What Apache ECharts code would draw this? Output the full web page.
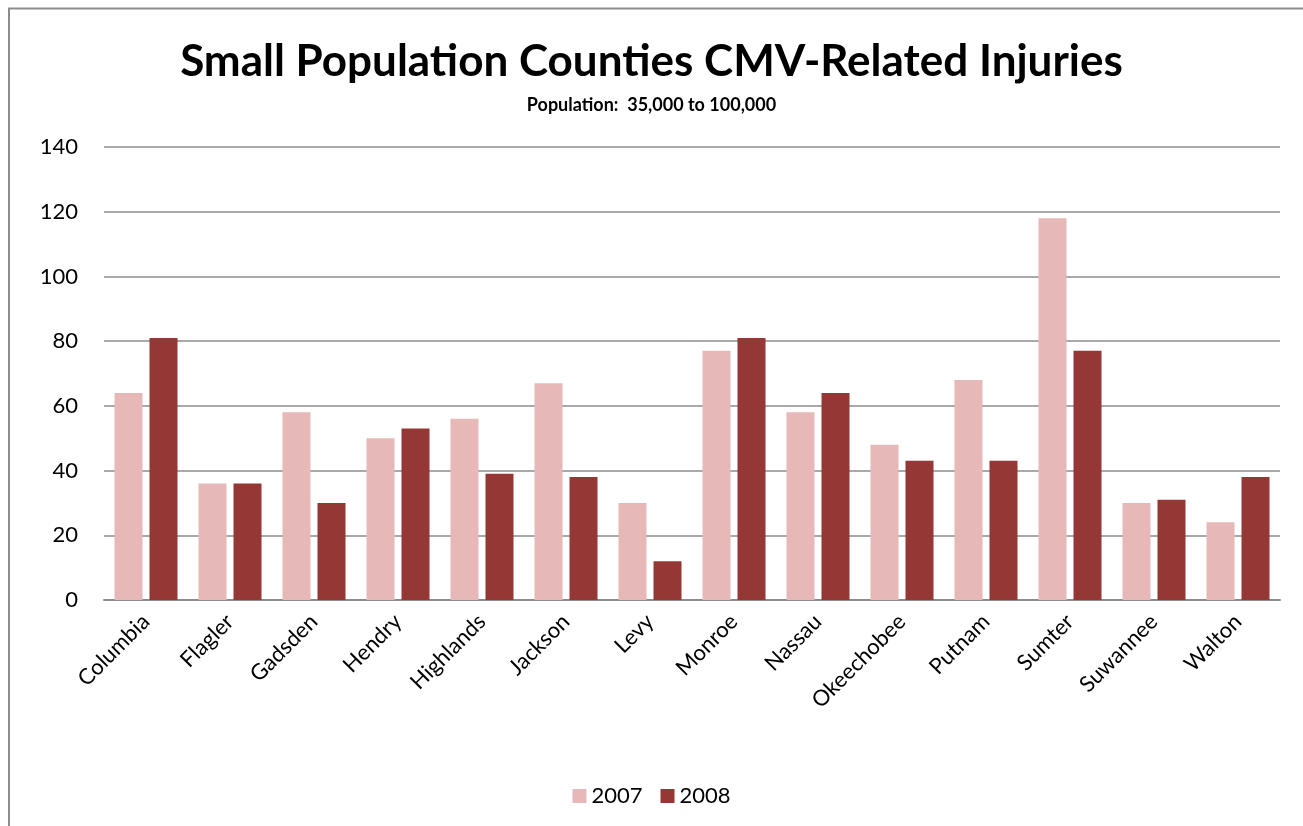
<!DOCTYPE html>
<html><head><meta charset="utf-8">
<script src="https://cdn.jsdelivr.net/npm/echarts@6/dist/echarts.min.js"></script>
<style>html,body{margin:0;padding:0;background:#fff}#c{width:1303px;height:826px}</style>
</head><body><div id="c"></div>
<script>
const categories = ['Columbia','Flagler','Gadsden','Hendry','Highlands','Jackson','Levy','Monroe','Nassau','Okeechobee','Putnam','Sumter','Suwannee','Walton'];
const values2007 = [64,36,58,50,56,67,30,77,58,48,68,118,30,24];
const values2008 = [81,36,30,53,39,38,12,81,64,43,43,77,31,38];
const seriesNames = ['2007','2008'];
const titleText = 'Small Population Counties CMV-Related Injuries';
const subtitleText = 'Population:  35,000 to 100,000';

const FONT = 'Lato, "Open Sans", sans-serif';
const chart = echarts.init(document.getElementById('c'));
chart.setOption({
  backgroundColor: '#fff',
  animation: false,
  graphic: [{
    type: 'polyline',
    shape: { points: [[9, 830], [9, 8.5], [1310, 8.5]] },
    style: { stroke: '#8c8c8c', lineWidth: 2, fill: null }
  }],
  title: [{
    text: titleText, left: 'center', top: 35,
    textStyle: { fontFamily: FONT, fontWeight: 'bold', fontSize: 44, color: '#000' }
  }, {
    text: subtitleText, left: 'center', top: 91,
    textStyle: { fontFamily: FONT, fontWeight: 'bold', fontSize: 18, color: '#000' }
  }],
  legend: {
    data: seriesNames, bottom: 14, left: 'center',
    itemWidth: 14, itemHeight: 14, itemGap: 18,
    icon: 'rect',
    textStyle: { fontFamily: FONT, fontSize: 22, color: '#000' }
  },
  grid: { left: 104, right: 23, top: 147, bottom: 226, containLabel: false },
  xAxis: {
    type: 'category', data: categories,
    axisLine: { lineStyle: { color: '#8c8c8c', width: 2 } },
    axisTick: { show: false },
    axisLabel: { rotate: 45, interval: 0, margin: 18, fontFamily: FONT, fontSize: 22, color: '#000' }
  },
  yAxis: {
    type: 'value', min: 0, max: 140, interval: 20,
    axisLine: { show: false }, axisTick: { show: false },
    axisLabel: { margin: 26, fontFamily: FONT, fontSize: 22, color: '#000' },
    splitLine: { lineStyle: { color: '#8c8c8c', width: 1.5 } }
  },
  series: [{
    name: seriesNames[0], type: 'bar', data: values2007,
    barWidth: 28, barGap: '25%',
    itemStyle: { color: '#E6B8B7' }
  }, {
    name: seriesNames[1], type: 'bar', data: values2008,
    barWidth: 28, barGap: '25%',
    itemStyle: { color: '#953735' }
  }]
});
</script></body></html>
